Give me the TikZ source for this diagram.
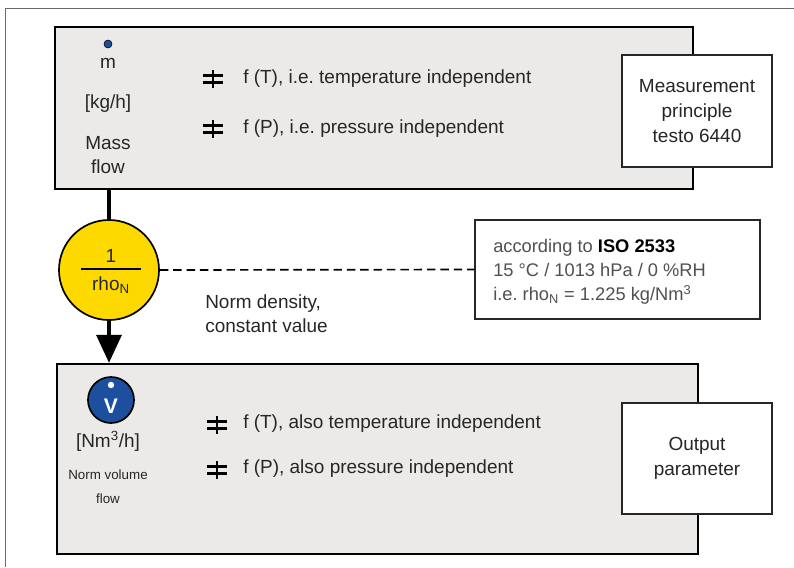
\documentclass[tikz,border=0pt]{standalone}
\usepackage{fontspec}
\setmainfont{Liberation Sans}
\usetikzlibrary{arrows.meta}
\frenchspacing

\definecolor{panelgray}{HTML}{EBEAE9}
\definecolor{sunyellow}{HTML}{FDD900}
\definecolor{flowblue}{HTML}{1D4F9F}
\definecolor{inktext}{HTML}{262626}
\definecolor{infotext}{HTML}{505050}
\definecolor{framegray}{HTML}{6A6A6A}

\begin{document}
\begin{tikzpicture}[x=0.025cm, y=-0.025cm,
    font=\fontsize{13.5}{18}\selectfont, text=inktext,
    panel/.style={draw=black, line width=1.6pt, fill=panelgray, inner sep=0pt},
    tagbox/.style={draw=black!85, line width=0.8pt, fill=white, align=center, inner sep=0pt},
    pics/noteq/.style={code={
        \draw[line width=1.7pt] (-10,-3.5) -- (10,-3.5);
        \draw[line width=1.7pt] (-10,3.5) -- (10,3.5);
        \draw[line width=1.7pt] (0,-9) -- (0,9);
    }}]
    \useasboundingbox (0,0) rectangle (794,567);

    % outer frame
    \draw[framegray, line width=0.6pt] (794,8) -- (5,8) -- (5,567);

    % upper panel: mass flow
    \node[panel, minimum width=15.95cm, minimum height=4.05cm] (masspanel) at (374,108) {};
    \node[tagbox, minimum width=3.75cm, minimum height=2.8cm] (principle) at (697,111) {Measurement\\principle\\testo 6440};
    \node[circle, fill=flowblue, draw=black, line width=0.4pt, inner sep=0pt, minimum size=0.2cm] (mdot) at (108,44) {};
    \node (msym) at (108,63) {m};
    \node (kgh) at (108,104) {[kg/h]};
    \node[align=center, font=\fontsize{13.5}{17}\selectfont] (massflow) at (108,155) {Mass\\flow};
    \pic at (213,79) {noteq};
    \pic at (213,129) {noteq};
    \node[anchor=west, inner sep=0pt] (tempind) at (243,79) {f (T), i.e. temperature independent};
    \node[anchor=west, inner sep=0pt] (presind) at (243,129) {f (P), i.e. pressure independent};

    % norm density
    \node[circle, draw=black, line width=1.2pt, fill=sunyellow, minimum size=2.5cm, inner sep=0pt] (rho) at (109,270) {};
    \node (rhoone) at (111,256) {1};
    \node (rhoname) at (111,285) {rho\textsubscript{N}};
    \draw[line width=0.9pt] (81,269) -- (141,269);
    \node[anchor=west, align=left, inner sep=0pt, font=\fontsize{13.5}{17}\selectfont] (normdens) at (205,314) {Norm density,\\constant value};
    \node[tagbox, minimum width=7.125cm, minimum height=2.475cm] (isonote) at (617.5,269.5) {};
    \node[anchor=west, align=left, inner sep=0pt, text=infotext, font=\fontsize{13}{17}\selectfont] (isotext) at (493,272)
        {according to \textcolor{black}{\textbf{ISO 2533}}\\15 °C / 1013 hPa / 0 \%RH\\i.e. rho\textsubscript{N} = 1.225 kg/Nm\textsuperscript{3}};

    % lower panel: norm volume flow
    \node[panel, minimum width=16.025cm, minimum height=4.75cm] (volpanel) at (377.5,459) {};
    \node[tagbox, minimum width=3.75cm, minimum height=2.775cm] (output) at (697,458.5) {Output\\parameter};
    \node[circle, draw=black, line width=1.2pt, fill=flowblue, minimum size=1.15cm, inner sep=0pt] (vflow) at (111,400) {};
    \node[text=white, font=\fontsize{15}{18}\bfseries] (vsym) at (111,406) {V};
    \node[circle, fill=white, inner sep=0pt, minimum size=0.16cm] (vdot) at (111,385) {};
    \node (nmh) at (108,441) {[Nm\textsuperscript{3}/h]};
    \node[align=center, font=\fontsize{9.5}{17}\selectfont] (volflow) at (108,487) {Norm volume\\flow};
    \pic at (217,425) {noteq};
    \pic at (217,470) {noteq};
    \node[anchor=west, inner sep=0pt] (tempalso) at (243,424) {f (T), also temperature independent};
    \node[anchor=west, inner sep=0pt] (presalso) at (243,469) {f (P), also pressure independent};

    % connectors
    \draw[line width=2.8pt] (rho.north |- masspanel.south) -- (rho.north);
    \draw[line width=2.8pt, -{Triangle[length=0.7cm, width=0.62cm]}] (rho.south) -- (rho.south |- volpanel.north);
    \draw[line width=1.2pt, dash pattern=on 6pt off 3.5pt] (rho.east) -- (isonote.west);
\end{tikzpicture}
\end{document}
